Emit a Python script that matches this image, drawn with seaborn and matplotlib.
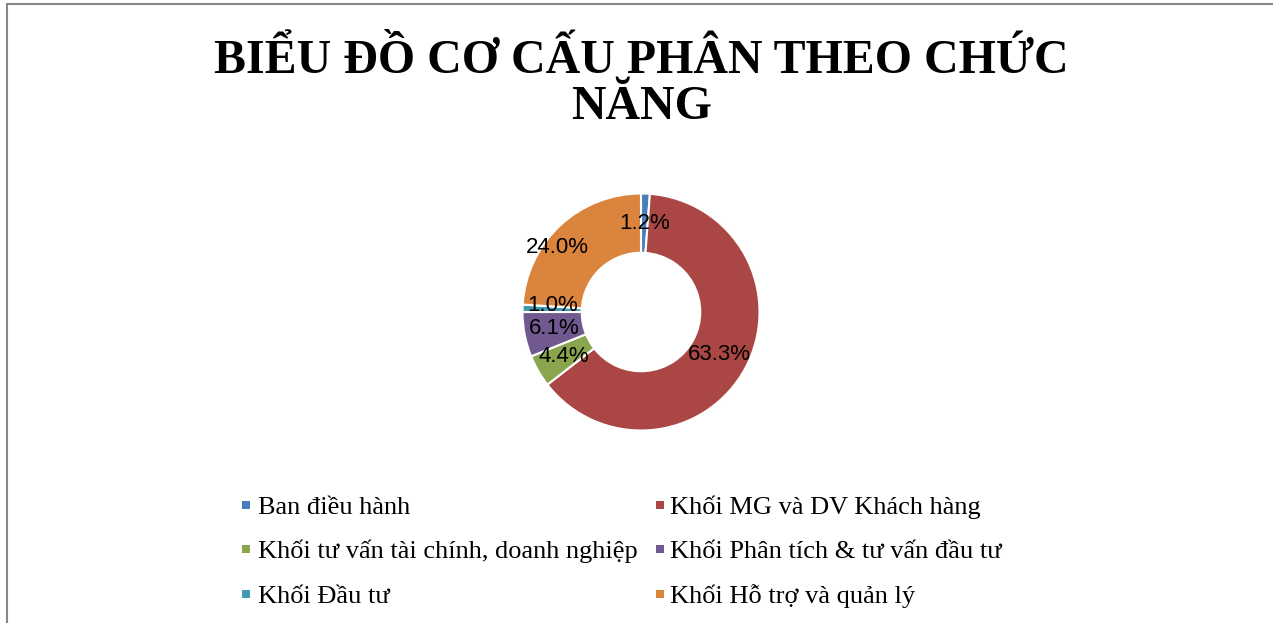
import matplotlib
matplotlib.use("Agg")
import matplotlib.pyplot as plt
from matplotlib.lines import Line2D
from matplotlib.patches import Rectangle
import seaborn as sns

# data
categories = [
    "Ban điều hành",
    "Khối MG và DV Khách hàng",
    "Khối tư vấn tài chính, doanh nghiệp",
    "Khối Phân tích & tư vấn đầu tư",
    "Khối Đầu tư",
    "Khối Hỗ trợ và quản lý",
]
shares = [1.2, 63.3, 4.4, 6.1, 1.0, 24.0]
colors = ["#4A7EBB", "#AA4643", "#89A54E", "#71588F", "#4198AF", "#DB843D"]
title_lines = ["BIỂU ĐỒ CƠ CẤU PHÂN THEO CHỨC", "NĂNG"]

sns.set_theme(style="white")
palette = sns.color_palette(colors)

W, H = 1273, 623
fig = plt.figure(figsize=(W / 100, H / 100), dpi=100)
fig.patch.set_facecolor("white")

# donut axes
cx, cy, r = 641, 312, 118.5
ax = fig.add_axes([(cx - r) / W, (H - cy - r) / H, 2 * r / W, 2 * r / H])
wedges, texts, autotexts = ax.pie(
    shares,
    colors=palette,
    startangle=90,
    counterclock=False,
    radius=1.0,
    autopct="%.1f%%",
    pctdistance=0.75,
    wedgeprops=dict(width=0.5, edgecolor="white", linewidth=1.5),
    textprops=dict(fontsize=16, family="Liberation Sans", color="black"),
)
ax.set_xlim(-1, 1)
ax.set_ylim(-1, 1)
ax.set_aspect("equal")
ax.axis("off")

# the large orange label sits a bit further out in the original
x0, y0 = autotexts[5].get_position()
autotexts[5].set_position((x0 * 1.38, y0))
# small teal label pushed up a touch so it clears the purple one
x0, y0 = autotexts[4].get_position()
autotexts[4].set_position((x0, y0 + 0.035))

# title, two lines placed by baseline
for line, base in zip(title_lines, [73, 119]):
    fig.text(0.504, 1 - base / H, line, ha="center", va="baseline",
             fontsize=34.5, fontweight="bold", family="Liberation Serif",
             color="black")

# legend laid out row by row (2 columns)
marker_x = [242, 656]
text_x = [258, 670]
baselines = [514, 558, 603]
msize = 8.5
for k, (label, wedge) in enumerate(zip(categories, wedges)):
    row, col = divmod(k, 2)
    b = baselines[row]
    fig.add_artist(Rectangle(
        (marker_x[col] / W, 1 - (b - 5) / H), msize / W, msize / H,
        transform=fig.transFigure, facecolor=wedge.get_facecolor(),
        edgecolor="none"))
    fig.text(text_x[col] / W, 1 - b / H, label, ha="left", va="baseline",
             family="Liberation Serif", fontsize=19, color="black")

# chart frame (top and left edges visible)
fig.add_artist(Line2D([7 / W, 1], [1 - 4 / H, 1 - 4 / H], color="#888888", lw=1.5))
fig.add_artist(Line2D([7 / W, 7 / W], [0, 1 - 4 / H], color="#888888", lw=1.5))

fig.savefig("out.png", dpi=100)
plt.close(fig)
